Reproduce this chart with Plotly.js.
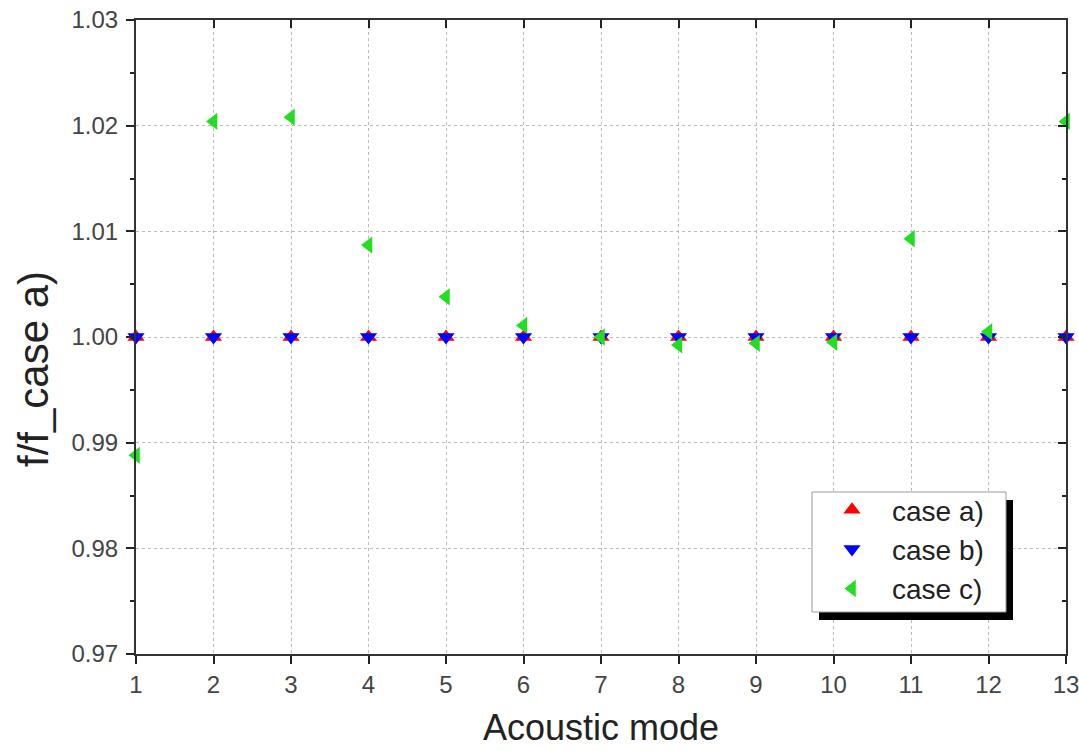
<!DOCTYPE html>
<html>
<head>
<meta charset="utf-8">
<script src="https://cdn.plot.ly/plotly-3.0.1.min.js"></script>
<style>html,body{margin:0;padding:0;background:#fff;}#chart{width:1079px;height:751px;}</style>
</head>
<body>
<div id="chart"></div>
<script>
const modes = [1,2,3,4,5,6,7,8,9,10,11,12,13];
const caseA = [1,1,1,1,1,1,1,1,1,1,1,1,1];
const caseB = [1,1,1,1,1,1,1,1,1,1,1,1,1];
const caseC = [0.9888,1.0204,1.0208,1.0087,1.0038,1.0011,1.0000,0.99925,0.9994,0.9995,1.0093,1.0005,1.0204];
const seriesNames = ['case a)','case b)','case c)'];
const yTicks = [0.97,0.98,0.99,1.00,1.01,1.02,1.03];
const yTickText = ['0.97','0.98','0.99','1.00','1.01','1.02','1.03'];
const xTitle = 'Acoustic mode';
const yTitle = 'f/f_case a)';

const traces = [
  {x:modes, y:caseA, name:seriesNames[0], mode:'markers', type:'scatter',
   marker:{symbol:'triangle-up', size:15, color:'#ff0000'}, cliponaxis:false},
  {x:modes, y:caseB, name:seriesNames[1], mode:'markers', type:'scatter',
   marker:{symbol:'triangle-down', size:15, color:'#0000ff'}, cliponaxis:false},
  {x:modes, y:caseC, name:seriesNames[2], mode:'markers', type:'scatter',
   marker:{symbol:'triangle-left', size:15, color:'#22dd22'}, cliponaxis:false},
  {x:modes, y:caseA, xaxis:'x2', yaxis:'y2', mode:'markers', type:'scatter',
   marker:{opacity:0}, showlegend:false, hoverinfo:'skip'}
];

const ff = 'Arial, Liberation Sans, sans-serif';
const tickFont = {family:ff, size:24, color:'#444'};
const px = v => (v-136)/930;
const py = v => (654-v)/634;
const layout = {
  width:1079, height:751,
  margin:{l:136, r:13, t:20, b:97},
  paper_bgcolor:'#fff', plot_bgcolor:'#fff',
  showlegend:true,
  xaxis:{range:[1,13], tickvals:modes, ticks:'outside', ticklen:8, tickwidth:2, tickcolor:'#222',
    showline:true, linewidth:2, linecolor:'#333', mirror:true, ticklabeloverflow:'allow',
    showgrid:true, gridcolor:'#bbb', griddash:'dot', gridwidth:1, zeroline:false,
    tickfont:tickFont},
  yaxis:{range:[0.97,1.03], tickvals:yTicks, ticktext:yTickText, ticks:'outside', ticklen:8, tickwidth:2, tickcolor:'#222',
    minor:{ticks:'outside', dtick:0.005, tick0:0.97, ticklen:4, tickwidth:2, tickcolor:'#222', showgrid:false},
    showline:true, linewidth:2, linecolor:'#333', mirror:true, ticklabelstandoff:3,
    showgrid:true, gridcolor:'#bbb', griddash:'dot', gridwidth:1, zeroline:false,
    tickfont:tickFont},
  xaxis2:{overlaying:'x', side:'top', range:[1,13], tickvals:modes, ticks:'inside', ticklen:8, tickwidth:2, tickcolor:'#222',
    showticklabels:false, showgrid:false, showline:false, zeroline:false},
  yaxis2:{overlaying:'y', side:'right', range:[0.97,1.03], tickvals:yTicks, ticks:'inside', ticklen:8, tickwidth:2, tickcolor:'#222',
    minor:{ticks:'inside', dtick:0.005, tick0:0.97, ticklen:4, tickwidth:2, tickcolor:'#222', showgrid:false},
    showticklabels:false, showgrid:false, showline:false, zeroline:false},
  annotations:[
    {text:yTitle, xref:'paper', yref:'paper', x:px(33), y:py(369),
     xanchor:'center', yanchor:'middle', textangle:-90, showarrow:false,
     font:{family:ff, size:42, color:'#222'}},
    {text:xTitle, xref:'paper', yref:'paper', x:px(601), y:py(750),
     xanchor:'center', yanchor:'bottom', showarrow:false,
     font:{family:ff, size:36, color:'#222'}}
  ],
  legend:{x:px(812), y:py(485), xanchor:'left', yanchor:'top', bgcolor:'rgba(0,0,0,0)', borderwidth:0,
    font:{family:ff, size:28, color:'#222'}, itemwidth:70, tracegroupgap:0},
  shapes:[
    {type:'rect', xref:'paper', yref:'paper', x0:px(819), x1:px(1013), y0:py(620), y1:py(500),
     fillcolor:'#000', line:{width:0}, layer:'above'},
    {type:'rect', xref:'paper', yref:'paper', x0:px(812), x1:px(1006), y0:py(612), y1:py(492),
     fillcolor:'#fff', line:{width:1, color:'#999'}, layer:'above'}
  ]
};
Plotly.newPlot('chart', traces, layout, {displayModeBar:false, staticPlot:true});
</script>
</body>
</html>
